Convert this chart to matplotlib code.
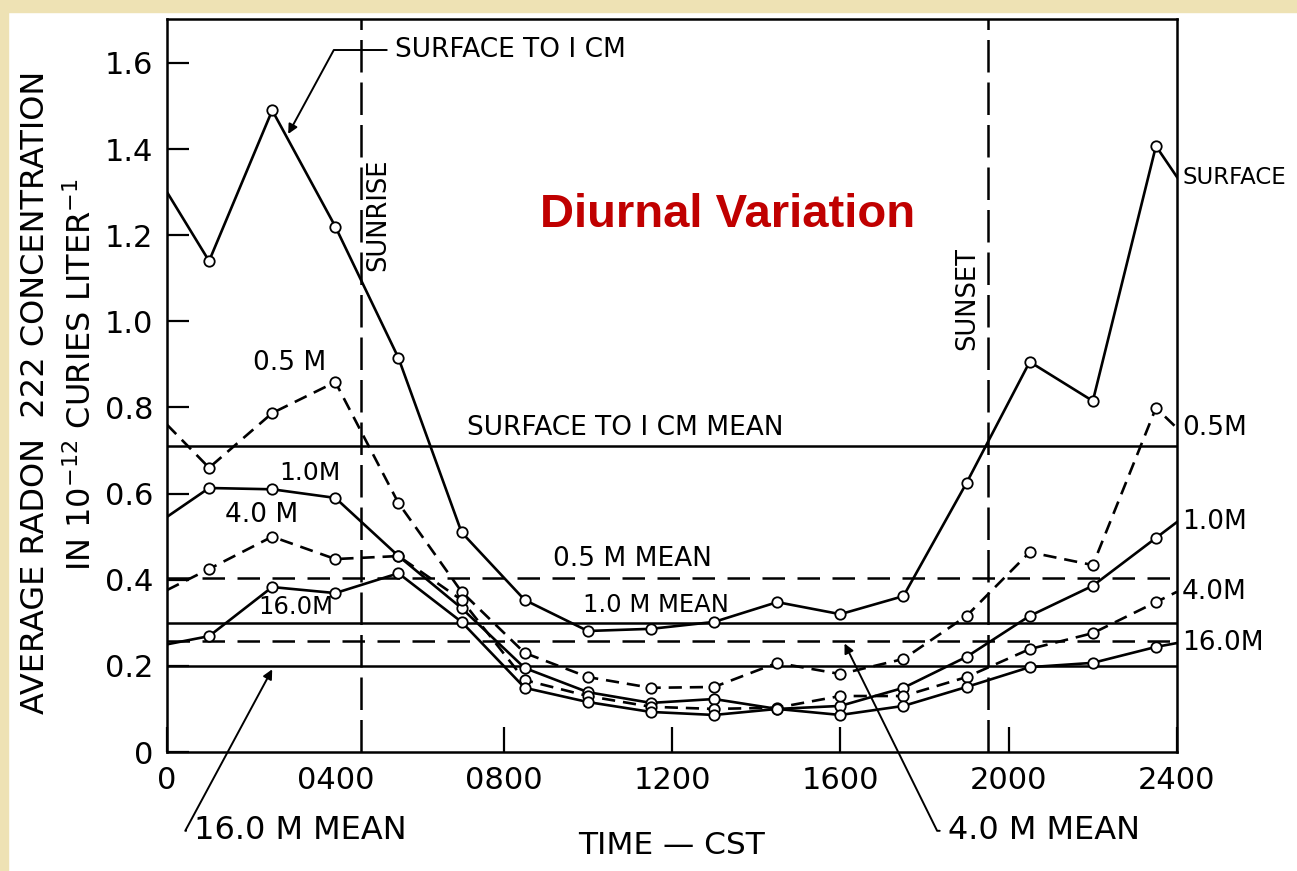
import matplotlib.pyplot as plt
from matplotlib.patches import Rectangle

# sample times (hours, CST) -- open circles
hours = [1.0, 2.5, 4.0, 5.5, 7.0, 8.5, 10.0, 11.5, 13.0, 14.5, 16.0, 17.5, 19.0, 20.5, 22.0, 23.5]

# radon 222 concentration, 1e-12 curies/liter
surface = [1.14, 1.49, 1.22, 0.915, 0.51, 0.353, 0.281, 0.286, 0.302, 0.348, 0.32, 0.362, 0.625, 0.906, 0.815, 1.407]
m05 = [0.66, 0.787, 0.859, 0.578, 0.372, 0.23, 0.174, 0.149, 0.151, 0.207, 0.181, 0.216, 0.316, 0.464, 0.434, 0.799]
m10 = [0.613, 0.61, 0.59, 0.455, 0.334, 0.195, 0.139, 0.114, 0.123, 0.10, 0.107, 0.149, 0.221, 0.316, 0.386, 0.497]
m40 = [0.425, 0.50, 0.448, 0.455, 0.353, 0.167, 0.13, 0.105, 0.10, 0.103, 0.13, 0.13, 0.174, 0.239, 0.276, 0.348]
m160 = [0.269, 0.383, 0.369, 0.415, 0.302, 0.149, 0.116, 0.093, 0.086, 0.10, 0.086, 0.107, 0.151, 0.197, 0.207, 0.244]

# values where each curve meets the 0000 and 2400 edges
surface_ends = [1.30, 1.335]
m05_ends = [0.76, 0.752]
m10_ends = [0.546, 0.534]
m40_ends = [0.376, 0.372]
m160_ends = [0.25, 0.253]

# means
surface_mean = 0.71
m05_mean = 0.405
m10_mean = 0.30
m40_mean = 0.258
m160_mean = 0.20

sunrise = 4.6
sunset = 19.5

xticks = [0, 4, 8, 12, 16, 20, 24]
xticklabels = ["0", "0400", "0800", "1200", "1600", "2000", "2400"]
yticks = [0, 0.2, 0.4, 0.6, 0.8, 1.0, 1.2, 1.4, 1.6]
yticklabels = ["0", "0.2", "0.4", "0.6", "0.8", "1.0", "1.2", "1.4", "1.6"]

plt.rcParams['font.family'] = ['DejaVu Sans']

fig = plt.figure(figsize=(12.97, 8.71), dpi=100)
fig.patch.set_facecolor('white')
# beige slide border on left and top
fig.patches.append(Rectangle((0, 0), 8 / 1297, 1, transform=fig.transFigure, color='#EEE2B4', zorder=0))
fig.patches.append(Rectangle((0, 1 - 12 / 871), 1, 12 / 871, transform=fig.transFigure, color='#EEE2B4', zorder=0))

ax = fig.add_axes([167 / 1297, 1 - 752 / 871, 1010 / 1297, 733 / 871])
ax.set_xlim(0, 24)
ax.set_ylim(0, 1.702)

# mean lines
ax.axhline(surface_mean, color='black', lw=1.8)
ax.axhline(m05_mean, color='black', lw=1.8, ls=(0, (9, 5)))
ax.axhline(m10_mean, color='black', lw=1.8)
ax.axhline(m40_mean, color='black', lw=1.8, ls=(0, (9, 5)))
ax.axhline(m160_mean, color='black', lw=1.8)

# sunrise / sunset
ax.axvline(sunrise, color='black', lw=1.8, ls=(0, (13, 4)))
ax.axvline(sunset, color='black', lw=1.8, ls=(0, (13, 4)))

series = [
    (surface, surface_ends, '-'),
    (m05, m05_ends, (0, (5, 3))),
    (m10, m10_ends, '-'),
    (m40, m40_ends, (0, (5, 3))),
    (m160, m160_ends, '-'),
]
x_full = [0] + hours + [24]
for vals, ends, ls in series:
    y_full = [ends[0]] + vals + [ends[1]]
    ax.plot(x_full, y_full, color='black', lw=1.9, ls=ls, marker='o', ms=7.5,
            mfc='white', mec='black', mew=1.3, markevery=list(range(1, len(x_full) - 1)), zorder=3)

ax.set_xticks(xticks)
ax.set_xticklabels(xticklabels)
ax.set_yticks(yticks)
ax.set_yticklabels(yticklabels)
ax.tick_params(direction='in', length=18, width=1.6, labelsize=22, pad=10)
ax.tick_params(axis='y', length=16)
ax.xaxis.get_major_ticks()[1].tick1line.set_visible(False)
for s in ax.spines.values():
    s.set_linewidth(1.8)

ax.set_xlabel("TIME \u2014 CST", fontsize=22.5, labelpad=26)

fig.text(36 / 1297, 1 - 392 / 871, "AVERAGE RADON  222 CONCENTRATION", rotation=90,
         fontsize=23, ha='center', va='center')
fig.text(82 / 1297, 1 - 375 / 871, "IN 10$^{-12}$ CURIES LITER$^{-1}$", rotation=90,
         fontsize=23, ha='center', va='center')

fs = 19
ax.text(10.9, 0.722, "SURFACE TO I CM MEAN", fontsize=fs, ha='center', va='bottom')
ax.text(11.07, 0.448, "0.5 M MEAN", fontsize=fs, ha='center', va='center')
ax.text(11.62, 0.341, "1.0 M MEAN", fontsize=17.5, ha='center', va='center')
ax.text(2.92, 0.903, "0.5 M", fontsize=fs, ha='center', va='center')
ax.text(3.4, 0.648, "1.0M", fontsize=18, ha='center', va='center')
ax.text(2.26, 0.55, "4.0 M", fontsize=fs, ha='center', va='center')
ax.text(3.07, 0.337, "16.0M", fontsize=17.5, ha='center', va='center')
ax.text(5.01, 1.247, "SUNRISE", fontsize=18.5, rotation=90, ha='center', va='center')
ax.text(19.01, 1.054, "SUNSET", fontsize=18.5, rotation=90, ha='center', va='center')

# labels at the right-hand edge
ax.text(24.12, surface_ends[1], "SURFACE", fontsize=16.5, ha='left', va='center', clip_on=False)
for lab, yv in [("0.5M", m05_ends[1]), ("1.0M", m10_ends[1]),
                ("4.0M", m40_ends[1]), ("16.0M", m160_ends[1])]:
    ax.text(24.12, yv, lab, fontsize=fs, ha='left', va='center', clip_on=False)

arrow = dict(arrowstyle='-|>', color='black', lw=1.4, mutation_scale=14, shrinkA=4, shrinkB=0)
ax.annotate("SURFACE TO I CM", xy=(2.88, 1.435), xytext=(5.42, 1.63), fontsize=fs,
            ha='left', va='center',
            arrowprops=dict(arrow, connectionstyle='angle,angleA=0,angleB=61.5,rad=0'))
ax.annotate("16.0 M MEAN", xy=(2.5, 0.192), xytext=(0.65, -0.183), fontsize=23,
            ha='left', va='center', annotation_clip=False,
            arrowprops=dict(arrow, connectionstyle='angle,angleA=0,angleB=61.7,rad=0'))
ax.annotate("4.0 M MEAN", xy=(16.1, 0.252), xytext=(18.56, -0.183), fontsize=23,
            ha='left', va='center', annotation_clip=False,
            arrowprops=dict(arrow, connectionstyle='angle,angleA=0,angleB=116.3,rad=0'))

ax.text(13.31, 1.248, "Diurnal Variation", fontsize=34, fontweight='bold', color='#C00000',
        family='Liberation Sans', ha='center', va='center')

fig.savefig("out.png", dpi=100)
